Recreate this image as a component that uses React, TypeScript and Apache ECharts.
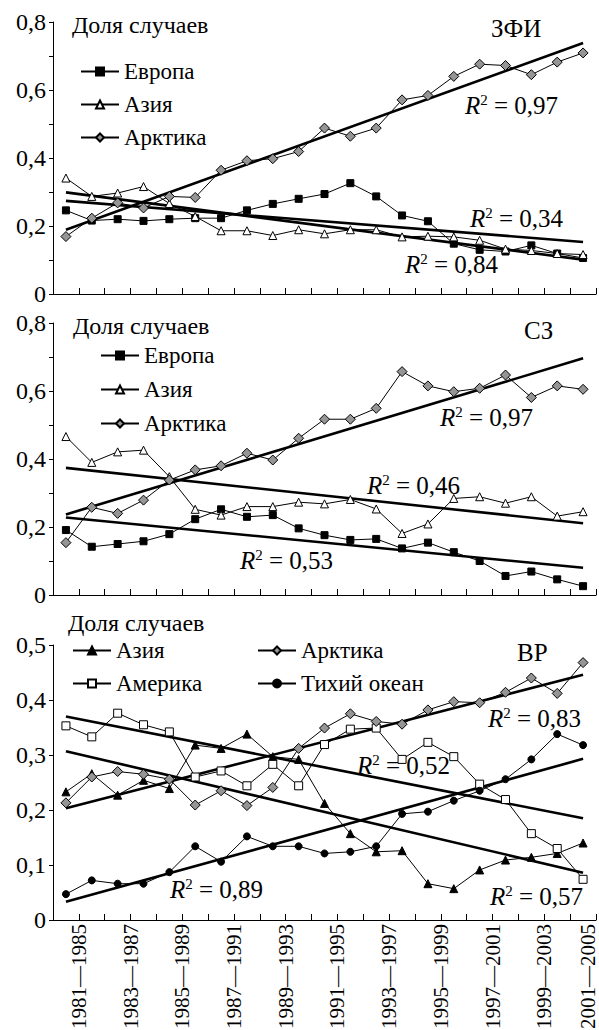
import React, { useEffect, useRef } from 'react';
import * as echarts from 'echarts';

const FONT = 'Liberation Serif';

// 5-year moving windows
const periods = [
  '1981—1985', '1982—1986', '1983—1987', '1984—1988', '1985—1989', '1986—1990', '1987—1991',
  '1988—1992', '1989—1993', '1990—1994', '1991—1995', '1992—1996', '1993—1997', '1994—1998',
  '1995—1999', '1996—2000', '1997—2001', '1998—2002', '1999—2003', '2000—2004', '2001—2005',
];

// Panel 1: ЗФИ
const europeZFI = [0.246, 0.216, 0.22, 0.215, 0.22, 0.223, 0.223, 0.246, 0.265, 0.28, 0.294, 0.326, 0.287, 0.231, 0.214, 0.148, 0.13, 0.125, 0.143, 0.119, 0.106];
const asiaZFI = [0.341, 0.287, 0.297, 0.316, 0.266, 0.228, 0.186, 0.186, 0.172, 0.189, 0.177, 0.189, 0.189, 0.168, 0.17, 0.168, 0.158, 0.132, 0.128, 0.119, 0.116];
const arcticZFI = [0.169, 0.223, 0.268, 0.253, 0.287, 0.284, 0.364, 0.392, 0.398, 0.419, 0.488, 0.464, 0.488, 0.571, 0.584, 0.64, 0.676, 0.672, 0.645, 0.682, 0.709];
const trendEuropeZFI = [0.274, 0.153];
const trendAsiaZFI = [0.299, 0.101];
const trendArcticZFI = [0.189, 0.738];

// Panel 2: СЗ
const europeSZ = [0.191, 0.142, 0.15, 0.158, 0.179, 0.223, 0.252, 0.23, 0.235, 0.196, 0.176, 0.162, 0.165, 0.137, 0.154, 0.126, 0.1, 0.056, 0.069, 0.046, 0.026];
const asiaSZ = [0.466, 0.39, 0.421, 0.426, 0.348, 0.252, 0.235, 0.26, 0.26, 0.273, 0.268, 0.281, 0.253, 0.181, 0.209, 0.284, 0.289, 0.27, 0.289, 0.232, 0.245];
const arcticSZ = [0.154, 0.258, 0.24, 0.279, 0.338, 0.368, 0.38, 0.417, 0.397, 0.461, 0.517, 0.517, 0.549, 0.657, 0.615, 0.598, 0.608, 0.647, 0.581, 0.615, 0.605];
const trendEuropeSZ = [0.228, 0.08];
const trendAsiaSZ = [0.374, 0.211];
const trendArcticSZ = [0.237, 0.696];

// Panel 3: ВР
const asiaVR = [0.233, 0.266, 0.227, 0.254, 0.239, 0.318, 0.312, 0.338, 0.297, 0.292, 0.212, 0.157, 0.124, 0.126, 0.066, 0.057, 0.091, 0.109, 0.114, 0.121, 0.14];
const americaVR = [0.353, 0.333, 0.376, 0.355, 0.342, 0.26, 0.271, 0.244, 0.283, 0.244, 0.319, 0.347, 0.349, 0.292, 0.323, 0.297, 0.247, 0.219, 0.157, 0.13, 0.074];
const arcticVR = [0.213, 0.26, 0.27, 0.265, 0.256, 0.209, 0.235, 0.208, 0.241, 0.312, 0.349, 0.375, 0.361, 0.356, 0.382, 0.397, 0.395, 0.414, 0.44, 0.412, 0.468];
const pacificVR = [0.047, 0.072, 0.066, 0.066, 0.087, 0.134, 0.106, 0.152, 0.134, 0.134, 0.121, 0.124, 0.134, 0.193, 0.197, 0.217, 0.235, 0.256, 0.292, 0.338, 0.318];
const trendAsiaVR = [0.307, 0.086];
const trendAmericaVR = [0.37, 0.185];
const trendArcticVR = [0.203, 0.446];
const trendPacificVR = [0.033, 0.293];

const yMax = [0.8, 0.8, 0.5];
const panelTitles = ['ЗФИ', 'СЗ', 'ВР'];
const r2Labels = [
  ['0,97', '0,34', '0,84'],
  ['0,97', '0,46', '0,53'],
  ['0,83', '0,52', '0,89', '0,57'],
];

const pts = (vals: number[]) => vals.map((v, i) => [i + 0.5, v]);
const trendPts = (ends: number[]) => [[0.5, ends[0]], [periods.length - 0.5, ends[1]]];

const GREY = '#959595';
const LEG = 23;

function dataSeries(name: string, vals: number[], idx: number, symbol: string, size: number, fill: string) {
  return {
    type: 'line', name, xAxisIndex: idx, yAxisIndex: idx, data: pts(vals),
    symbol, symbolSize: size, showSymbol: true, silent: true, z: 3,
    lineStyle: { color: '#000', width: 1 },
    itemStyle: { color: fill, borderColor: '#000', borderWidth: 1 },
    emphasis: { disabled: true },
  };
}
function trendSeries(name: string, ends: number[], idx: number) {
  return {
    type: 'line', name, xAxisIndex: idx, yAxisIndex: idx, data: trendPts(ends),
    symbol: 'none', silent: true, z: 2,
    lineStyle: { color: '#000', width: 2.6 },
    emphasis: { disabled: true },
  };
}

function r2Text(x: number, y: number, val: string) {
  return {
    type: 'text', x, y, silent: true,
    style: {
      text: `{i|R}{s|2}{n| = ${val}}`,
      verticalAlign: 'middle',
      fill: '#000',
      rich: {
        i: { fontFamily: FONT, fontStyle: 'italic', fontSize: 25, lineHeight: 25, fill: '#000' },
        s: { fontFamily: FONT, fontSize: 15, lineHeight: 14, verticalAlign: 'top', fill: '#000' },
        n: { fontFamily: FONT, fontSize: 25, lineHeight: 25, fill: '#000' },
      },
    },
  };
}
function plainText(x: number, y: number, text: string, size: number) {
  return {
    type: 'text', x, y, silent: true,
    style: { text, fontFamily: FONT, fontSize: size, fill: '#000', verticalAlign: 'middle' },
  };
}

export default function App() {
  const ref = useRef<HTMLDivElement>(null);
  useEffect(() => {
    if (!ref.current) return;
    const chart = echarts.init(ref.current, null, { renderer: 'svg' });
    const grids = [
      { left: 53, top: 22, width: 543, height: 272, outerBoundsMode: 'none', containLabel: false },
      { left: 53, top: 323, width: 543, height: 272, outerBoundsMode: 'none', containLabel: false },
      { left: 53, top: 645, width: 543, height: 275, outerBoundsMode: 'none', containLabel: false },
    ];
    const axisLine = { show: true, lineStyle: { color: '#000', width: 1 } };
    const xAxis = grids.map((_, k) => ({
      type: 'value', gridIndex: k, min: 0, max: periods.length, interval: 1,
      axisLine, splitLine: { show: false },
      axisTick: { show: true, inside: true, length: 6, lineStyle: { color: '#000' } },
      axisLabel: k < 2 ? { show: false } : {
        show: true, rotate: 90, fontFamily: FONT, fontSize: 21, color: '#000', margin: 4,
        showMaxLabel: true, showMinLabel: true,
        rich: { last: { fontFamily: FONT, fontSize: 21, color: '#000', padding: [0, 0, 16, 0] } },
        formatter: (v: number) => {
          const n = Math.round(v);
          if (n % 2 !== 1) return '';
          return n === periods.length ? `{last|${periods[n - 1]}}` : periods[n - 1];
        },
      },
    }));
    const yAxis = grids.map((_, k) => ({
      type: 'value', gridIndex: k, min: 0, max: yMax[k], interval: 0.1,
      axisLine, splitLine: { show: false },
      axisTick: { show: true, length: 4, lineStyle: { color: '#000' } },
      axisLabel: {
        fontFamily: FONT, fontSize: 24, color: '#000', margin: 7,
        formatter: (v: number) => {
          const t = Math.round(v * 10);
          if (k < 2 && t % 2 === 1) return '';
          return t === 0 ? '0' : (t / 10).toFixed(1).replace('.', ',');
        },
      },
    }));

    const legendBase = {
      orient: 'vertical', padding: 0, itemWidth: 38, itemHeight: 10, itemGap: 10,
      selectedMode: false,
      textStyle: { fontFamily: FONT, fontSize: LEG, color: '#000', lineHeight: 22 },
      formatter: (n: string) => n.split('|')[1],
    };

    const series = [
      trendSeries('t1', trendEuropeZFI, 0),
      trendSeries('t2', trendAsiaZFI, 0),
      trendSeries('t3', trendArcticZFI, 0),
      dataSeries('ЗФИ|Европа', europeZFI, 0, 'rect', 7, '#000'),
      dataSeries('ЗФИ|Азия', asiaZFI, 0, 'triangle', 8, '#fff'),
      dataSeries('ЗФИ|Арктика', arcticZFI, 0, 'diamond', 10, GREY),

      trendSeries('t4', trendEuropeSZ, 1),
      trendSeries('t5', trendAsiaSZ, 1),
      trendSeries('t6', trendArcticSZ, 1),
      dataSeries('СЗ|Европа', europeSZ, 1, 'rect', 7, '#000'),
      dataSeries('СЗ|Азия', asiaSZ, 1, 'triangle', 8, '#fff'),
      dataSeries('СЗ|Арктика', arcticSZ, 1, 'diamond', 10, GREY),

      trendSeries('t7', trendAsiaVR, 2),
      trendSeries('t8', trendAmericaVR, 2),
      trendSeries('t9', trendArcticVR, 2),
      trendSeries('t10', trendPacificVR, 2),
      dataSeries('ВР|Азия', asiaVR, 2, 'triangle', 8, '#000'),
      dataSeries('ВР|Америка', americaVR, 2, 'rect', 8, '#fff'),
      dataSeries('ВР|Арктика', arcticVR, 2, 'diamond', 10, GREY),
      dataSeries('ВР|Тихий океан', pacificVR, 2, 'circle', 7, '#000'),
    ];

    const option = {
      animation: false,
      grid: grids,
      xAxis, yAxis,
      legend: [
        { ...legendBase, left: 80, top: 60, data: ['ЗФИ|Европа', 'ЗФИ|Азия', 'ЗФИ|Арктика'] },
        { ...legendBase, left: 100, top: 344, itemGap: 11, data: ['СЗ|Европа', 'СЗ|Азия', 'СЗ|Арктика'] },
        { ...legendBase, left: 72, top: 639, data: ['ВР|Азия', 'ВР|Америка'] },
        { ...legendBase, left: 257, top: 639, data: ['ВР|Арктика', 'ВР|Тихий океан'] },
      ],
      graphic: [
        plainText(72, 25, 'Доля случаев', 24),
        plainText(491, 28, panelTitles[0], 25),
        r2Text(465, 105, r2Labels[0][0]),
        r2Text(470, 218, r2Labels[0][1]),
        r2Text(405, 264, r2Labels[0][2]),

        plainText(73, 326, 'Доля случаев', 24),
        plainText(524, 330, panelTitles[1], 25),
        r2Text(440, 417, r2Labels[1][0]),
        r2Text(367, 485, r2Labels[1][1]),
        r2Text(240, 560, r2Labels[1][2]),

        plainText(68, 623, 'Доля случаев', 24),
        plainText(517, 652, panelTitles[2], 25),
        r2Text(488, 718, r2Labels[2][0]),
        r2Text(357, 765, r2Labels[2][1]),
        r2Text(170, 889, r2Labels[2][2]),
        r2Text(490, 896, r2Labels[2][3]),
      ],
      series,
    };
    chart.setOption(option as any);
    return () => chart.dispose();
  }, []);
  return (
    <div
      ref={ref}
      style={{ position: 'absolute', left: 0, top: 0, width: 599, height: 1030, background: '#fff' }}
    />
  );
}
